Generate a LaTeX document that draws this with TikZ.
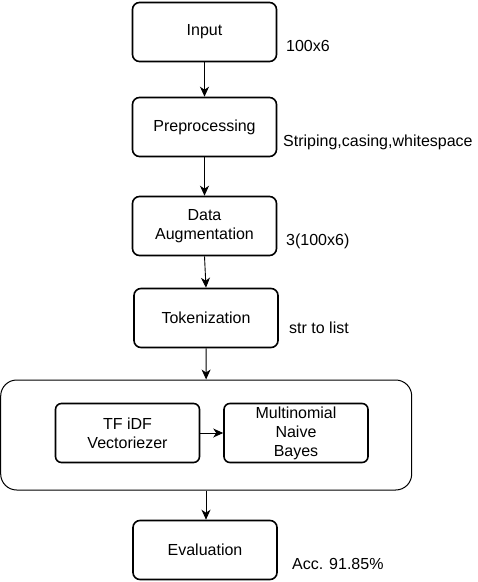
\documentclass[tikz,border=0pt]{standalone}
\usepackage{fontspec}
\setmainfont{Liberation Sans}
\usetikzlibrary{arrows.meta}
\begin{document}
\begin{tikzpicture}[x=1pt,y=-1pt,
  font=\fontsize{16}{19}\selectfont,
  box/.style={draw,line width=1.6pt,rounded corners=7pt,minimum width=144pt,minimum height=59pt,inner sep=0pt,align=center},
  smallbox/.style={draw,line width=1.6pt,rounded corners=6pt,minimum width=144pt,minimum height=59pt,inner sep=0pt,align=center},
  group/.style={draw,line width=1pt,rounded corners=16pt,minimum width=411pt,minimum height=110pt,inner sep=0pt},
  lbl/.style={anchor=west,inner sep=0pt},
  arr/.style={-{Stealth[length=10pt,width=9pt,inset=3pt]},line width=0.9pt}]
\useasboundingbox (0,0) rectangle (478,582);
\node[box] (inp) at (204.5,32) {Input};
\node[box] (pre) at (204.5,127) {Preprocessing};
\node[box] (aug) at (204.5,226) {Data\\Augmentation};
\node[box] (tok) at (206,318) {Tokenization};
\node[group] (grp) at (206.2,435) {};
\node[smallbox] (tfidf) at (127.5,433) {TF iDF\\Vectoriezer};
\node[smallbox] (mnb) at (296,433) {Multinomial\\Naive\\Bayes};
\node[box] (eva) at (205,550) {Evaluation};
\node[lbl] (l1) at (286,46) {100x6};
\node[lbl] (l2) at (283,142) {Striping,casing,whitespace};
\node[lbl] (l3) at (286,241) {3(100x6)};
\node[lbl] (l4) at (289,328) {str to list};
\node[lbl] (l5) at (292,564) {Acc. 91.85\%};
\draw[arr] (inp) -- (pre);
\draw[arr] (pre) -- (aug);
\draw[arr] (aug.south) -- (tok.north);
\draw[arr] (tok) -- (grp);
\draw[arr] (tfidf) -- (mnb);
\draw[arr] (grp.south -| tok) -- (eva.north -| tok);
\end{tikzpicture}
\end{document}
